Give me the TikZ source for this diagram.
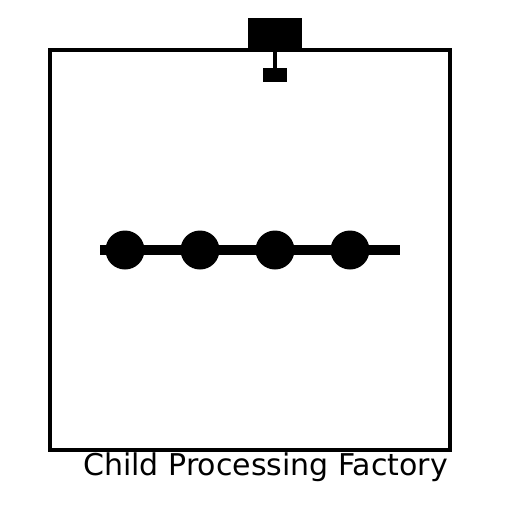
\documentclass[tikz,border=0pt]{standalone}
\usepackage{fontspec}
\setmainfont{DejaVu Sans}
\usepackage{tikz}

\begin{document}
\begin{tikzpicture}[x=1pt,y=1pt,yscale=-1,xscale=1,
  blk/.style={fill=black,draw=none,inner sep=0pt,outer sep=0pt},
  dot/.style={circle,fill=black,draw=none,minimum size=39pt,inner sep=0pt}]
\useasboundingbox (0,0) rectangle (512,512);

%Factory frame
\draw [line width=4pt] (50,50) rectangle (450,450) ;
%Chimney block
\node [blk,minimum width=54pt,minimum height=32pt] (chimney) at (275,34) {};
%Valve block
\node [blk,minimum width=24pt,minimum height=14pt] (valve) at (275,75) {};
%Straight Lines
\draw [line width=4pt] (chimney.south) -- (valve.north) ;

%Conveyor ends
\coordinate (beltL) at (100,250);
\coordinate (beltR) at (400,250);
%Straight Lines
\draw [line width=10pt] (beltL) -- (beltR) ;
%Children on the belt
\node [dot] (c1) at (125,250) {};
\node [dot] (c2) at (200,250) {};
\node [dot] (c3) at (275,250) {};
\node [dot] (c4) at (350,250) {};

% Text Node
\node [anchor=base east,inner sep=0pt,font=\fontsize{30}{36}\selectfont] (label) at (448,475) {Child Processing Factory};

\end{tikzpicture}
\end{document}
